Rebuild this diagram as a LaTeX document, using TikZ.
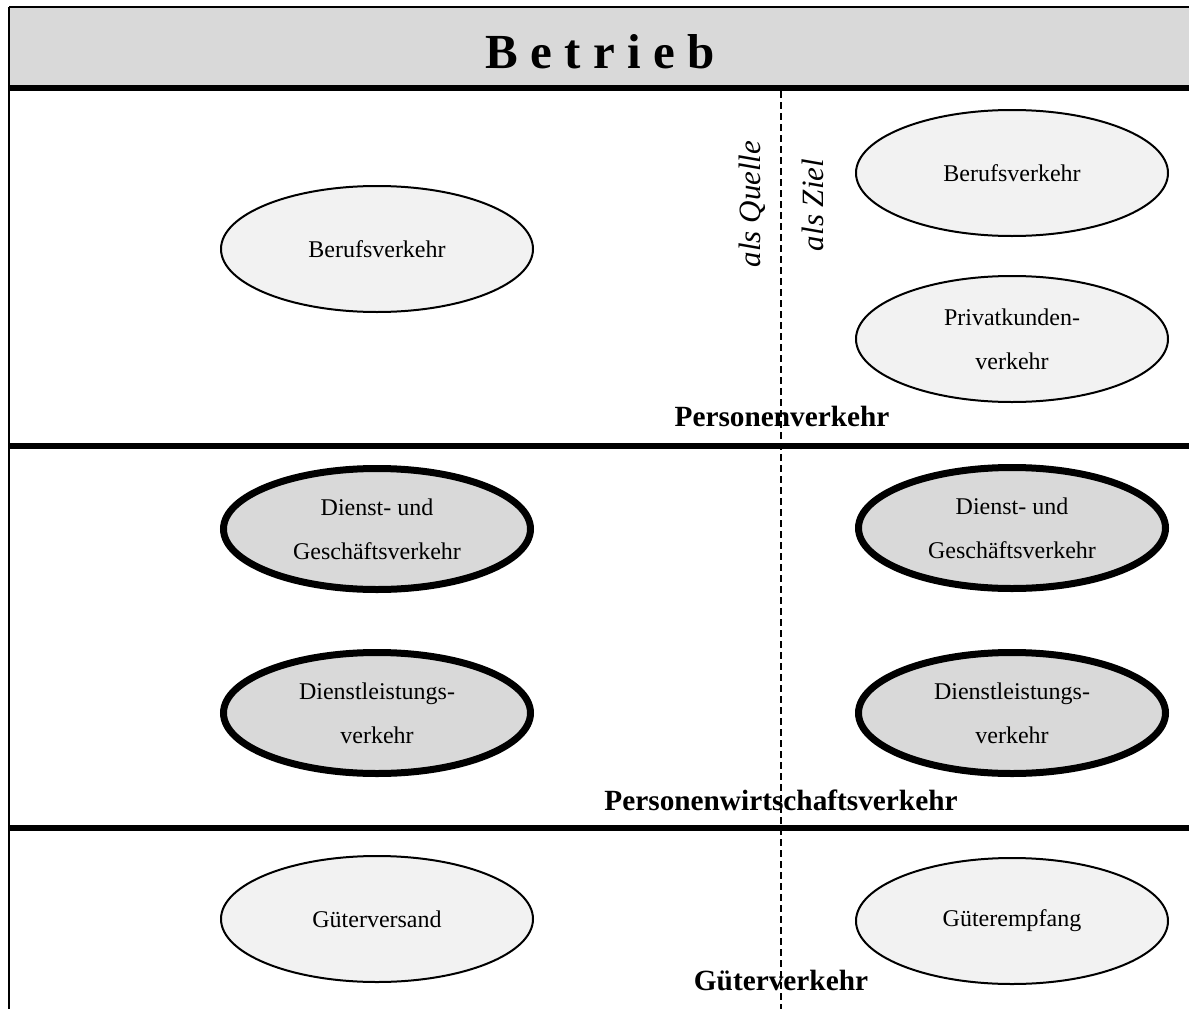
\documentclass[tikz,border=0pt]{standalone}
\usepackage{fontspec}
\setmainfont{Liberation Serif}
\usetikzlibrary{shapes.geometric}
\definecolor{headgray}{HTML}{D9D9D9}
\definecolor{lightfill}{HTML}{F2F2F2}
\definecolor{darkfill}{HTML}{D9D9D9}
\tikzset{
  lightell/.style={ellipse, draw=black, line width=2pt, fill=lightfill,
    minimum width=312pt, minimum height=126pt, inner sep=0pt, align=center,
    font=\fontsize{24}{44}\selectfont},
  darkell/.style={ellipse, draw=black, line width=7pt, fill=darkfill,
    minimum width=307pt, minimum height=121pt, inner sep=0pt, align=center,
    font=\fontsize{24}{44}\selectfont},
  zonelabel/.style={font=\fontsize{29.3}{31}\selectfont\bfseries, inner sep=0pt},
  sidelabel/.style={font=\fontsize{31}{33}\selectfont\itshape, rotate=90, inner sep=0pt},
  sepline/.style={line width=5.5pt},
  frameline/.style={line width=2.2pt},
  midline/.style={line width=1.8pt, dash pattern=on 7pt off 4pt}
}
\begin{document}
\begin{tikzpicture}[x=1pt, y=-1pt]
\useasboundingbox (0,0) rectangle (1189,1009);

% header band
\fill[headgray] (10,8) rectangle (1189,86);
\node[font=\fontsize{49}{52}\selectfont\bfseries, inner sep=0pt] (title) at (600,52) {B e t r i e b};

% frame and separators
\coordinate (tl) at (9,7);
\coordinate (tr) at (1189,7);
\coordinate (bl) at (9,1009);
\draw[frameline] (tl) -- (tr);
\draw[frameline] (tl) -- (bl);
\coordinate (h1l) at (10,88);  \coordinate (h1r) at (1189,88);
\coordinate (h2l) at (10,446); \coordinate (h2r) at (1189,446);
\coordinate (h3l) at (10,828); \coordinate (h3r) at (1189,828);
\draw[sepline] (h1l) -- (h1r);
\draw[sepline] (h2l) -- (h2r);
\draw[sepline] (h3l) -- (h3r);

% Personenverkehr
\node[lightell] (berufL) at (377,249) {Berufsverkehr};
\node[lightell] (berufR) at (1012,173) {Berufsverkehr};
\node[lightell] (privat) at (1012,339) {Privatkunden-\\verkehr};
\node[sidelabel] (quelle) at (752,204) {als Quelle};
\node[sidelabel] (ziel) at (813,205) {als Ziel};
\node[zonelabel] (pv) at (782,416) {Personenverkehr};

% Personenwirtschaftsverkehr
\node[darkell] (dgL) at (377,529) {Dienst- und\\Geschäftsverkehr};
\node[darkell] (dlL) at (377,713) {Dienstleistungs-\\verkehr};
\node[darkell] (dgR) at (1012,528) {Dienst- und\\Geschäftsverkehr};
\node[darkell] (dlR) at (1012,713) {Dienstleistungs-\\verkehr};
\node[zonelabel] (pwv) at (781,800) {Personenwirtschaftsverkehr};

% Güterverkehr
\node[lightell] (versand) at (377,919) {Güterversand};
\node[lightell] (empfang) at (1012,921) {Güterempfang};
\node[zonelabel] (gv) at (781,981) {Güterverkehr};

% source / destination divider
\coordinate (dtop) at (781,91);
\coordinate (dbot) at (781,1009);
\draw[midline] (dtop) -- (dbot);
\end{tikzpicture}
\end{document}
